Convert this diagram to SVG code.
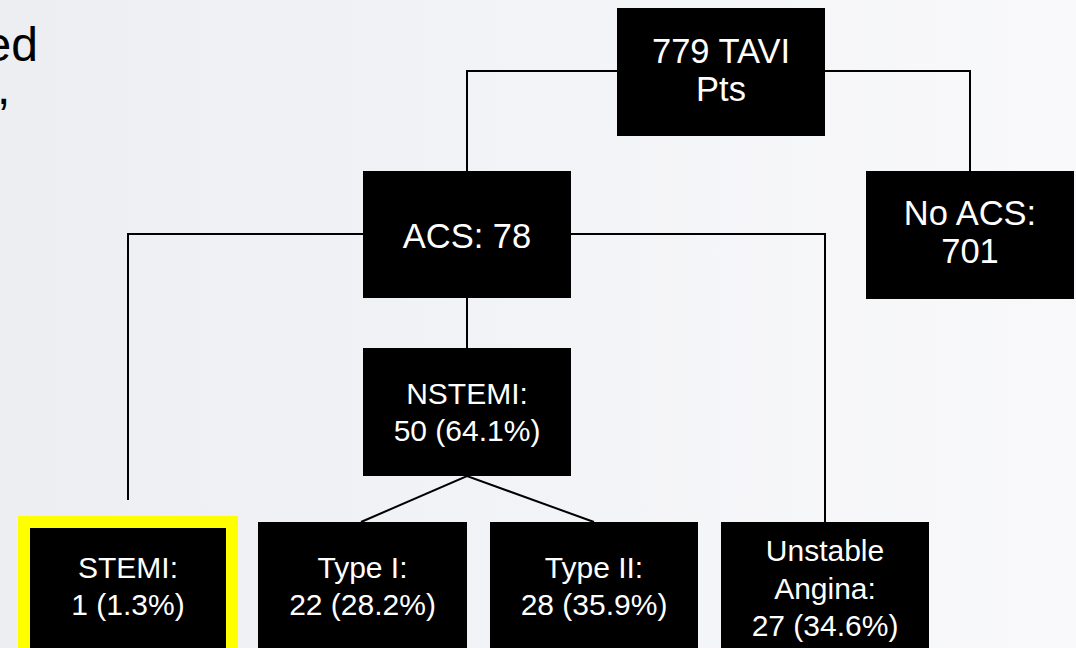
<svg xmlns="http://www.w3.org/2000/svg" width="1076" height="648" viewBox="0 0 1076 648">
  <defs>
    <linearGradient id="bg" x1="0" y1="0" x2="1" y2="0">
      <stop offset="0" stop-color="#eceef2"/>
      <stop offset="1" stop-color="#f9f9fb"/>
    </linearGradient>
    <style>
      .box { fill: #000000; }
      .hl { fill: #000000; stroke: #ffff00; stroke-width: 12; }
      .lbl { font-family: "Liberation Sans", Arial, sans-serif; fill: #ffffff; text-anchor: middle; }
      .big { font-size: 34.5px; }
      .sm { font-size: 30px; }
      .conn { fill: none; stroke: #000000; stroke-width: 2; }
      .bgtext { font-family: "Liberation Sans", Arial, sans-serif; fill: #000000; font-size: 48px; }
    </style>
  </defs>
  <rect x="0" y="0" width="1076" height="648" fill="url(#bg)"/>
  <g id="slide-text">
    <text class="bgtext" x="38" y="61" text-anchor="end">ed</text>
    <text class="bgtext" x="-3" y="104">,</text>
  </g>
  <g id="connectors">
    <path class="conn" d="M467 171 V71 H970 V171"/>
    <path class="conn" d="M128 500 V234 H825 V522"/>
    <path class="conn" d="M467 298 V348"/>
    <path class="conn" d="M361 522 L467 476 L594 522"/>
  </g>
  <g id="node-tavi">
    <rect class="box" x="617" y="8" width="208" height="128"/>
    <text class="lbl big" x="721" y="62.5">779 TAVI</text>
    <text class="lbl big" x="721" y="100.5">Pts</text>
  </g>
  <g id="node-acs">
    <rect class="box" x="363" y="171" width="208" height="127"/>
    <text class="lbl big" x="467" y="247.5">ACS: 78</text>
  </g>
  <g id="node-noacs">
    <rect class="box" x="866" y="171" width="208" height="128"/>
    <text class="lbl big" x="970" y="225">No ACS:</text>
    <text class="lbl big" x="970" y="263">701</text>
  </g>
  <g id="node-nstemi">
    <rect class="box" x="363" y="348" width="208" height="128"/>
    <text class="lbl sm" x="467" y="404">NSTEMI:</text>
    <text class="lbl sm" x="467" y="440.5">50 (64.1%)</text>
  </g>
  <g id="node-stemi">
    <rect class="hl" x="24" y="522" width="208" height="134"/>
    <text class="lbl sm" x="128" y="577.5">STEMI:</text>
    <text class="lbl sm" x="128" y="614.5">1 (1.3%)</text>
  </g>
  <g id="node-type1">
    <rect class="box" x="258" y="522" width="209" height="134"/>
    <text class="lbl sm" x="362.5" y="577.5">Type I:</text>
    <text class="lbl sm" x="362.5" y="614.5">22 (28.2%)</text>
  </g>
  <g id="node-type2">
    <rect class="box" x="490" y="522" width="208" height="134"/>
    <text class="lbl sm" x="594" y="577.5">Type II:</text>
    <text class="lbl sm" x="594" y="614.5">28 (35.9%)</text>
  </g>
  <g id="node-unstable">
    <rect class="box" x="721" y="522" width="208" height="134"/>
    <text class="lbl sm" x="825" y="561">Unstable</text>
    <text class="lbl sm" x="825" y="598.5">Angina:</text>
    <text class="lbl sm" x="825" y="636">27 (34.6%)</text>
  </g>
</svg>
